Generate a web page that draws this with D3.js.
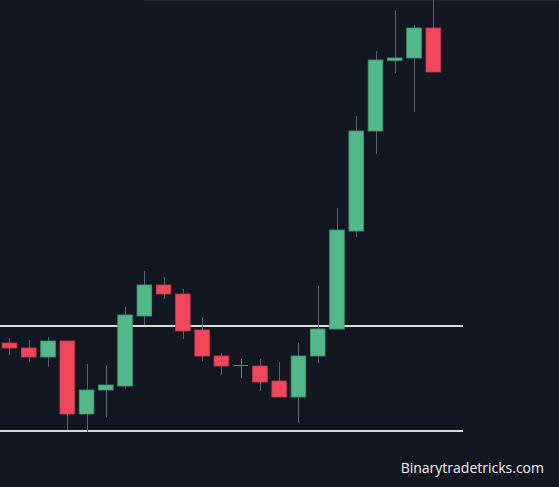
<!DOCTYPE html>
<html><head><meta charset="utf-8">
<script src="https://cdn.jsdelivr.net/npm/d3@7"></script>
<style>html,body{margin:0;padding:0;background:#131722;}svg{display:block;}</style>
</head><body>
<svg id="chart" width="559" height="487"></svg>
<script>
// price values (arbitrary units)
const bars = d3.range(23);
const opens  = [157,152,143,159, 86,110,114,184,215,206,170,144,135,134,119,103,144,171,269,369,439.5,442,472];
const closes = [152,143,159, 86,110,115,185,215,206,169,144,134,134.5,118,103,144,171,270,369,440,442,472,428];
const highs  = [162,160,163,159,136,135,193,229,223,211,183,147,141,141,138,157,214,292,384,449,490,475,500];
const lows   = [145,138,133, 70, 68, 83,111,175,201,161,139,125,122,109,103, 77,137,171,263,346,427,388,428];
const levels = [174, 69];
const watermark = "Binarytradetricks.com";

const W = 559, H = 487;
const svg = d3.select("#chart");
svg.append("rect").attr("width", W).attr("height", H).attr("fill", "#131722");
svg.append("rect").attr("x", 143).attr("y", 0).attr("width", W - 143).attr("height", 1).attr("fill", "#1f232e");

const x = d3.scalePoint().domain(bars).range([9.5, 433.3]);
const y = d3.scaleLinear().domain([13, 500]).range([487, 0]);
const bw = 14.6;
const green = "#53b98b", red = "#f0475d";
const greenB = "#3f9a72", redB = "#c93b4e";

// levels
svg.selectAll("line.level").data(levels).enter().append("line")
  .attr("x1", 0).attr("x2", 463)
  .attr("y1", d => y(d)).attr("y2", d => y(d))
  .attr("stroke", "#d8d9dc").attr("stroke-width", 2);

const g = svg.append("g");
const c = g.selectAll("g.c").data(bars).enter().append("g");
c.append("line")
  .attr("x1", i => Math.round(x(i)) + 0.5).attr("x2", i => Math.round(x(i)) + 0.5)
  .attr("y1", i => y(highs[i])).attr("y2", i => y(lows[i]))
  .attr("stroke", i => Math.abs(opens[i]-closes[i]) < 1 ? "#5a8a80" : "#5d6270").attr("stroke-width", 1);
c.append("rect")
  .attr("x", i => x(i) - bw / 2)
  .attr("width", bw)
  .attr("y", i => y(Math.max(opens[i], closes[i])))
  .attr("height", i => Math.abs(opens[i]-closes[i]) < 1 ? 1 : Math.max(1, y(Math.min(opens[i], closes[i])) - y(Math.max(opens[i], closes[i]))))
  .attr("fill", i => Math.abs(opens[i]-closes[i]) < 1 ? "#5a8a80" : (closes[i] >= opens[i] ? green : red))
  .attr("stroke", i => Math.abs(opens[i]-closes[i]) < 1 ? "none" : (closes[i] >= opens[i] ? greenB : redB))
  .attr("stroke-width", 0.8);

svg.append("text").attr("x", 544).attr("y", 473).attr("text-anchor", "end")
  .attr("font-family", "'Open Sans', sans-serif").attr("font-size", 14)
  .attr("fill", "#f0f0f0").text(watermark);
</script>
</body></html>
